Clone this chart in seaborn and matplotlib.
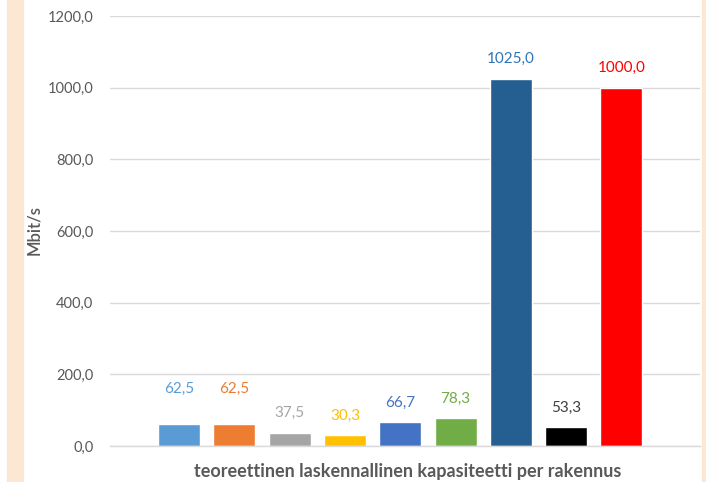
import matplotlib
matplotlib.use("Agg")
import matplotlib.pyplot as plt
import seaborn as sns
import pandas as pd
from matplotlib.patches import Rectangle
from matplotlib.ticker import FuncFormatter

# Capacity per building (Mbit/s), one bar per connection type
series_names = ["s1", "s2", "s3", "s4", "s5", "s6", "s7", "s8", "s9"]
values = [62.5, 62.5, 37.5, 30.3, 66.7, 78.3, 1025.0, 53.3, 1000.0]
bar_colors = ["#5B9BD5", "#ED7D31", "#A5A5A5", "#FFC000", "#4472C4",
              "#70AD47", "#255E91", "#000000", "#FF0000"]
label_colors = ["#5B9BD5", "#ED7D31", "#A5A5A5", "#FFC000", "#4472C4",
                "#70AD47", "#2E75B6", "#404040", "#FF0000"]
label_lift = [11, 11, 0, 0, 0, 0, 0, 0, 0]  # extra points above the default offset
category = "teoreettinen laskennallinen kapasiteetti per rakennus"
y_ticks = [0, 200, 400, 600, 800, 1000, 1200]

sns.set_theme(style="white")
plt.rcParams["font.family"] = ["Lato", "DejaVu Sans"]

df = pd.DataFrame({"series": series_names, "value": values})

fig = plt.figure(figsize=(7.06, 4.82), dpi=100)

# Side borders of the chart frame
fig.patches.append(Rectangle((7 / 706, 0), 16 / 706, 1, transform=fig.transFigure,
                             color="#FCE8D2", zorder=-5))
fig.patches.append(Rectangle((702 / 706, 0), 4 / 706, 1, transform=fig.transFigure,
                             color="#FCE8D2", zorder=-5))

ax = fig.add_axes([110 / 706, 36 / 482, 590 / 706, 430 / 482])

sns.barplot(data=df, x="series", y="value", hue="series",
            palette=bar_colors, order=series_names, hue_order=series_names,
            width=0.76, dodge=False, legend=False, ax=ax, saturation=1)

for i, (v, c, lift) in enumerate(zip(values, label_colors, label_lift)):
    ax.annotate(f"{v:.1f}".replace(".", ","), (i, v), xytext=(0, 14 + lift),
                textcoords="offset points", ha="center", va="center",
                color=c, fontsize=11)

ax.set_ylim(0, 1200)
ax.set_xlim(-1.25, 9.42)
ax.set_yticks(y_ticks)
ax.yaxis.set_major_formatter(FuncFormatter(lambda v, _: f"{v:.1f}".replace(".", ",")))
ax.tick_params(axis="y", labelsize=10.5, labelcolor="#595959", length=0, pad=12)
ax.set_xticks([])
ax.grid(axis="y", color="#D9D9D9", linewidth=1)
ax.set_axisbelow(True)
for side in ["top", "right", "left"]:
    ax.spines[side].set_visible(False)
ax.spines["bottom"].set_color("#D9D9D9")
ax.spines["bottom"].set_linewidth(1)

ax.set_xlabel("")
ax.set_ylabel("")
fig.text(408 / 706, 10 / 482, category, ha="center", va="center",
         fontsize=13, fontweight="bold", color="#595959")
fig.text(34 / 706, 252 / 482, "Mbit/s", ha="center", va="center", rotation=90,
         fontsize=12, fontweight="semibold", color="#595959")

fig.savefig("out.png", dpi=100)
